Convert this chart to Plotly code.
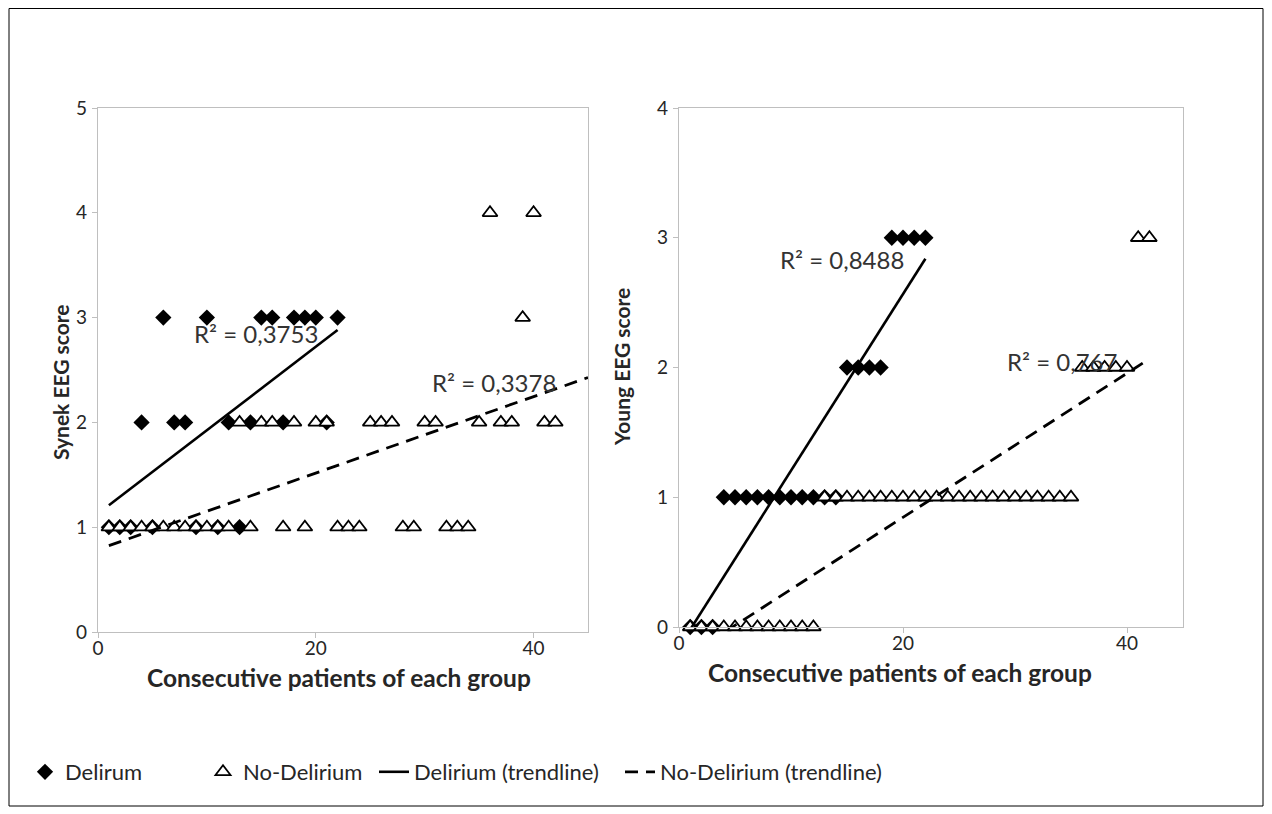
import plotly.graph_objects as go
import numpy as np

# ---------------- data ----------------
delirium_patients = [1, 2, 3, 4, 5, 6, 7, 8, 9, 10, 11, 12, 13, 14, 15, 16, 17, 18, 19, 20, 21, 22]
nodelirium_patients = [1, 2, 3, 4, 5, 6, 7, 8, 9, 10, 11, 12, 13, 14, 15, 16, 17, 18, 19, 20, 21,
                       22, 23, 24, 25, 26, 27, 28, 29, 30, 31, 32, 33, 34, 35, 36, 37, 38, 39, 40, 41, 42]

synek_delirium = [1, 1, 1, 2, 1, 3, 2, 2, 1, 3, 1, 2, 1, 2, 3, 3, 2, 3, 3, 3, 2, 3]
synek_nodelirium = [1, 1, 1, 1, 1, 1, 1, 1, 1, 1, 1, 1, 2, 1, 2, 2, 1, 2, 1, 2, 2,
                    1, 1, 1, 2, 2, 2, 1, 1, 2, 2, 1, 1, 1, 2, 4, 2, 2, 3, 4, 2, 2]

young_delirium = [0, 0, 0, 1, 1, 1, 1, 1, 1, 1, 1, 1, 1, 1, 2, 2, 2, 2, 3, 3, 3, 3]
young_nodelirium = [0, 0, 0, 0, 0, 0, 0, 0, 0, 0, 0, 0, 1, 1, 1, 1, 1, 1, 1, 1, 1,
                    1, 1, 1, 1, 1, 1, 1, 1, 1, 1, 1, 1, 1, 1, 2, 2, 2, 2, 2, 3, 3]

r2_labels = ["R² = 0,3753", "R² = 0,3378", "R² = 0,8488", "R² = 0,767"]
legend_names = ["Delirum", "No-Delirium", "Delirium (trendline)", "No-Delirium (trendline)"]
x_title = "Consecutive patients of each group"
y_titles = ["Synek EEG score", "Young EEG score"]

# trendline spans (x from / to)
span_synek_del = [1, 22]
span_synek_nodel = [1, 45]
span_young_del = [1, 22]
span_young_nodel = [1, 42]

# ---------------- helpers ----------------
W, H = 1272, 814
OFF = 8  # page body margin of the html page
def px(x):
    return (x - OFF) / W
def py(y):
    return 1 - (y - OFF) / H

def trend(xs, ys, span):
    m, b = np.polyfit(np.array(xs, float), np.array(ys, float), 1)
    xx = np.array(span, float)
    return xx, m * xx + b

FONT = "Lato"
TXT = "#262626"
AX = "#BFBFBF"

fig = go.Figure()

panels = [
    ("x", "y", synek_delirium, synek_nodelirium, span_synek_del, span_synek_nodel, True),
    ("x2", "y2", young_delirium, young_nodelirium, span_young_del, span_young_nodel, False),
]

for xa, ya, dvals, nvals, sd, sn, first in panels:
    fig.add_trace(go.Scatter(
        x=delirium_patients, y=dvals, mode="markers", xaxis=xa, yaxis=ya,
        name=legend_names[0], legend="legend", showlegend=first, cliponaxis=False,
        marker=dict(symbol="diamond", size=12.5, color="black", line=dict(width=0))))
    fig.add_trace(go.Scatter(
        x=nodelirium_patients, y=nvals, mode="markers", xaxis=xa, yaxis=ya,
        name=legend_names[1], legend="legend2", showlegend=first, cliponaxis=False,
        marker=dict(symbol="triangle-up", size=13, color="white",
                    line=dict(width=1.8, color="black"))))
    tx, ty = trend(delirium_patients, dvals, sd)
    fig.add_trace(go.Scatter(
        x=tx, y=ty, mode="lines", xaxis=xa, yaxis=ya,
        name=legend_names[2], legend="legend3", showlegend=first,
        line=dict(color="black", width=2.6)))
    tx, ty = trend(nodelirium_patients, nvals, sn)
    fig.add_trace(go.Scatter(
        x=tx, y=ty, mode="lines", xaxis=xa, yaxis=ya,
        name=legend_names[3], legend="legend4", showlegend=first,
        line=dict(color="black", width=2.8, dash="13px,8px")))

axis_common = dict(showline=True, linecolor=AX, linewidth=1.3, mirror=True,
                   ticks="outside", ticklen=5, tickcolor=AX, tickwidth=1.3,
                   showgrid=False, zeroline=False, automargin=False,
                   tickfont=dict(family=FONT, size=19, color=TXT))

fig.update_layout(
    width=W, height=H, autosize=False,
    margin=dict(l=0, r=0, t=0, b=0, pad=0, autoexpand=False),
    paper_bgcolor="white", plot_bgcolor="white",
    xaxis=dict(domain=[px(98), px(588)], range=[0, 45], tickvals=[0, 20, 40], anchor="y",
               ticklabelstandoff=-6, **axis_common),
    yaxis=dict(domain=[py(632), py(108)], range=[0, 5], dtick=1, anchor="x",
               ticklabelstandoff=1, **axis_common),
    xaxis2=dict(domain=[px(679), px(1183)], range=[0, 45], tickvals=[0, 20, 40], anchor="y2",
                ticklabelstandoff=-6, **axis_common),
    yaxis2=dict(domain=[py(627), py(108)], range=[0, 4], dtick=1, anchor="x2",
                ticklabelstandoff=1, **axis_common),
)

leg_common = dict(orientation="h", yanchor="middle", xanchor="left", y=py(772),
                  font=dict(family=FONT, size=22, color=TXT), bgcolor="rgba(0,0,0,0)",
                  borderwidth=0)
fig.update_layout(
    legend=dict(x=px(25), **leg_common),
    legend2=dict(x=px(203), **leg_common),
    legend3=dict(x=px(374), **leg_common),
    legend4=dict(x=px(620), **leg_common),
)

ann = []
# R² labels (positioned in data coordinates of each panel)
ann.append(dict(x=14.5, y=2.85, xref="x", yref="y", text=r2_labels[0]))
ann.append(dict(x=36.4, y=2.38, xref="x", yref="y", text=r2_labels[1]))
ann.append(dict(x=14.55, y=2.83, xref="x2", yref="y2", text=r2_labels[2]))
ann.append(dict(x=34.2, y=2.05, xref="x2", yref="y2", text=r2_labels[3]))
for a in ann:
    a.update(showarrow=False, font=dict(family=FONT, size=24, color="#333333"),
             xanchor="center", yanchor="middle")
titles = [
    dict(x=px(339), y=py(677), text="<b>%s</b>" % x_title, textangle=0, size=24.5),
    dict(x=px(900), y=py(672), text="<b>%s</b>" % x_title, textangle=0, size=24.5),
    dict(x=px(60), y=py(382), text="<b>%s</b>" % y_titles[0], textangle=-90, size=21),
    dict(x=px(622), y=py(367), text="<b>%s</b>" % y_titles[1], textangle=-90, size=21),
]
for t in titles:
    s = t.pop("size")
    t.update(xref="paper", yref="paper", showarrow=False, xanchor="center", yanchor="middle",
             font=dict(family=FONT, size=s, color=TXT))
fig.update_layout(annotations=ann + titles)

fig.add_shape(type="rect", xref="paper", yref="paper",
              x0=px(9), x1=px(1263), y0=py(806), y1=py(8.5),
              line=dict(color="black", width=1), fillcolor="rgba(0,0,0,0)", layer="below")

fig.write_html("out.html")
